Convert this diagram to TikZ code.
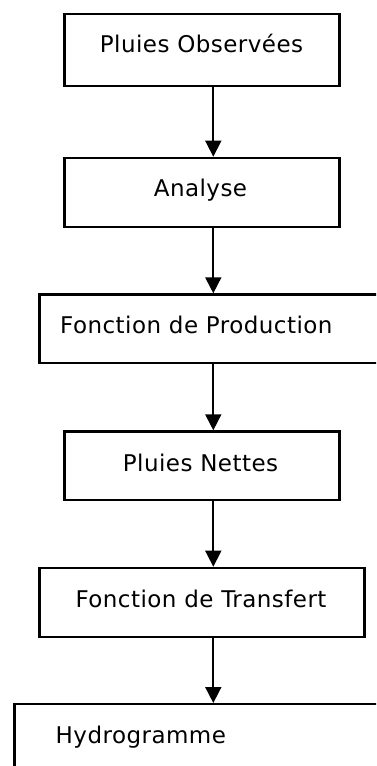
\documentclass[tikz,border=0pt]{standalone}
\usepackage{fontspec}
\setmainfont{DejaVu Sans}[LetterSpace=2]
\usetikzlibrary{arrows.meta}
\tikzset{
  box/.style={draw, line width=2.2pt, inner sep=0pt, anchor=north west},
  label text/.style={anchor=base, inner sep=0pt, font=\fontsize{23}{27}\selectfont},
  flow/.style={line width=1.7pt, -{Triangle[width=16pt,length=16pt]}},
}
\begin{document}
\begin{tikzpicture}[x=1pt,y=-1pt]
  \clip (0,0) rectangle (376,766);
  \fill[white] (0,0) rectangle (376,766);
  % boxes of the flow chart
  \node[box, minimum width=275pt, minimum height=72.3pt] (obs) at (63.3,12.7) {};
  \node[box, minimum width=275pt, minimum height=69pt] (ana) at (63.3,156.7) {};
  \node[box, minimum width=360pt, minimum height=68.7pt] (prod) at (38.3,293.3) {};
  \node[box, minimum width=275pt, minimum height=68.4pt] (net) at (63.3,430.3) {};
  \node[box, minimum width=325pt, minimum height=69pt] (trans) at (38.3,566.7) {};
  \node[box, minimum width=390pt, minimum height=90pt] (hyd) at (13.3,703) {};
  % labels
  \node[label text] (tobs) at (201.5,52.7) {Pluies Observées};
  \node[label text] (tana) at (200.5,196.7) {Analyse};
  \node[label text, anchor=base west] (tprod) at (60,333.3) {Fonction de Production};
  \node[label text] (tnet) at (200.5,471) {Pluies Nettes};
  \node[label text] (ttrans) at (201,607.3) {Fonction de Transfert};
  \node[label text, anchor=base west] (thyd) at (55.5,743) {Hydrogramme};
  % arrows
  \coordinate (ax) at (213.3,0);
  \draw[flow] (obs.south -| ax) -- (ana.north -| ax);
  \draw[flow] (ana.south -| ax) -- (prod.north -| ax);
  \draw[flow] (prod.south -| ax) -- (net.north -| ax);
  \draw[flow] (net.south -| ax) -- (trans.north -| ax);
  \draw[flow] (trans.south -| ax) -- (hyd.north -| ax);
\end{tikzpicture}
\end{document}
